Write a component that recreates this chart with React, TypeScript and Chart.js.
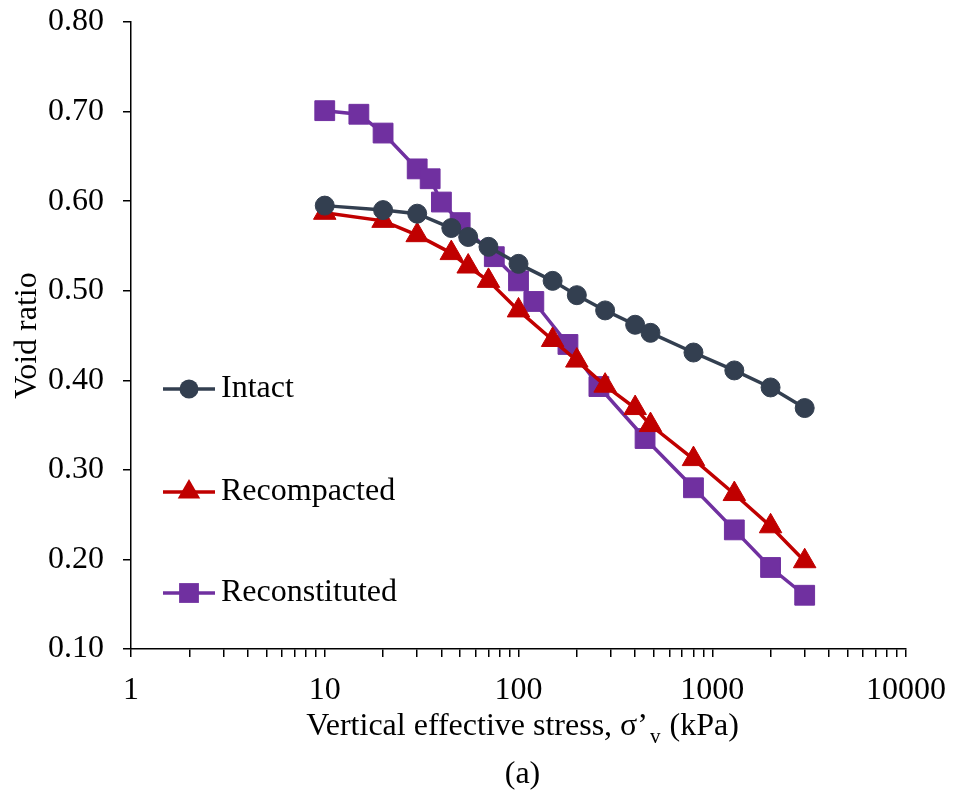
import React, { useEffect, useRef } from "react";
import { Chart, registerables } from "chart.js";

Chart.register(...registerables);

// ---- data ----
const intactStress = [10, 20, 30, 45, 55, 70, 100, 150, 200, 280, 400, 480, 800, 1300, 2000, 3000];
const intactVoid = [0.595, 0.590, 0.586, 0.570, 0.560, 0.549, 0.530, 0.511, 0.495, 0.478, 0.462, 0.453, 0.431, 0.411, 0.392, 0.369];

const recompStress = [10, 20, 30, 45, 55, 70, 100, 150, 200, 280, 400, 480, 800, 1300, 2000, 3000];
const recompVoid = [0.587, 0.578, 0.562, 0.542, 0.527, 0.511, 0.478, 0.445, 0.422, 0.394, 0.369, 0.350, 0.312, 0.273, 0.237, 0.198];

const reconStress = [10, 15, 20, 30, 35, 40, 50, 75, 100, 120, 180, 260, 450, 800, 1300, 2000, 3000];
const reconVoid = [0.701, 0.697, 0.676, 0.636, 0.625, 0.599, 0.576, 0.538, 0.511, 0.488, 0.440, 0.393, 0.335, 0.280, 0.233, 0.191, 0.160];

const seriesNames = ["Intact", "Recompacted", "Reconstituted"];
const xMajorTicks = [1, 10, 100, 1000, 10000];
const yTickValues = [0.1, 0.2, 0.3, 0.4, 0.5, 0.6, 0.7, 0.8];
const xTitleMain = "Vertical effective stress, σ’";
const xTitleSub = "v";
const xTitleEnd = " (kPa)";
const yTitle = "Void ratio";
const panelLabel = "(a)";

const COLORS = ["#333F50", "#C00000", "#7030A0"];
const STYLES: any[] = ["circle", "triangle", "rect"];
const RADII = [9.5, 13, 14];
const FONT = "'Liberation Serif', 'Times New Roman', serif";
const FS = 32;

const toPts = (xs: number[], ys: number[]) => xs.map((x, i) => ({ x, y: ys[i] }));

const overlayPlugin = {
  id: "overlay",
  afterDraw(chart: any) {
    const ctx = chart.ctx as CanvasRenderingContext2D;
    const ca = chart.chartArea;
    ctx.save();
    ctx.fillStyle = "#000";
    ctx.textBaseline = "middle";
    ctx.textAlign = "left";
    const mainFont = `${FS}px ${FONT}`;
    const subFont = `21px ${FONT}`;
    ctx.font = mainFont;
    const w1 = ctx.measureText(xTitleMain).width;
    const w3 = ctx.measureText(xTitleEnd).width;
    ctx.font = subFont;
    const w2 = ctx.measureText(xTitleSub).width + 3;
    const total = w1 + w2 + w3;
    const cx = (ca.left + ca.right) / 2 + 4;
    const ty = ca.bottom + 78;
    const x0 = cx - total / 2;
    ctx.font = mainFont;
    ctx.fillText(xTitleMain, x0, ty);
    ctx.font = subFont;
    ctx.fillText(xTitleSub, x0 + w1 + 2, ty + 10);
    ctx.font = mainFont;
    ctx.fillText(xTitleEnd, x0 + w1 + w2, ty);
    ctx.textAlign = "center";
    ctx.fillText(panelLabel, cx, ca.bottom + 126);

    // legend
    const offsets = [367, 470, 571];
    seriesNames.forEach((name, i) => {
      const y = ca.top + offsets[i];
      const lx0 = ca.left + 32;
      const lx1 = ca.left + 84;
      ctx.strokeStyle = COLORS[i];
      ctx.lineWidth = 3.5;
      ctx.beginPath();
      ctx.moveTo(lx0, y);
      ctx.lineTo(lx1, y);
      ctx.stroke();
      ctx.fillStyle = COLORS[i];
      const mx = (lx0 + lx1) / 2;
      const r = RADII[i];
      ctx.beginPath();
      if (STYLES[i] === "circle") {
        ctx.arc(mx, y, r, 0, Math.PI * 2);
      } else if (STYLES[i] === "triangle") {
        ctx.moveTo(mx, y - r);
        ctx.lineTo(mx + r * 0.866, y + r / 2);
        ctx.lineTo(mx - r * 0.866, y + r / 2);
        ctx.closePath();
      } else {
        const s = r * Math.SQRT1_2;
        ctx.rect(mx - s, y - s, 2 * s, 2 * s);
      }
      ctx.fill();
      ctx.fillStyle = "#000";
      ctx.textAlign = "left";
      ctx.font = mainFont;
      ctx.fillText(name, lx1 + 6, y);
    });
    ctx.restore();
  },
};

export default function App() {
  const ref = useRef<HTMLCanvasElement | null>(null);
  useEffect(() => {
    document.body.style.margin = "0";
    const canvas = ref.current!;
    const datasets = [
      toPts(intactStress, intactVoid),
      toPts(recompStress, recompVoid),
      toPts(reconStress, reconVoid),
    ].map((data, i) => ({
      label: seriesNames[i],
      data,
      borderColor: COLORS[i],
      backgroundColor: COLORS[i],
      pointBackgroundColor: COLORS[i],
      pointBorderColor: COLORS[i],
      pointBorderWidth: 1,
      borderWidth: 3.5,
      pointStyle: STYLES[i],
      pointRadius: RADII[i],
      pointHoverRadius: RADII[i],
      tension: 0,
      showLine: true,
    }));
    const chart = new Chart(canvas, {
      type: "scatter",
      data: { datasets },
      plugins: [overlayPlugin],
      options: {
        animation: false,
        responsive: false,
        maintainAspectRatio: false,
        layout: { padding: { left: 0, right: 47, top: 22, bottom: 0 } },
        plugins: { legend: { display: false }, tooltip: { enabled: false } },
        scales: {
          x: {
            type: "logarithmic",
            min: 1,
            max: 10000,
            afterBuildTicks(scale: any) {
              const t: any[] = [];
              for (let d = 0; d < xMajorTicks.length - 1; d++) {
                for (let k = 1; k < 10; k++) t.push({ value: k * xMajorTicks[d] });
              }
              t.push({ value: xMajorTicks[xMajorTicks.length - 1] });
              scale.ticks = t;
            },
            afterFit(scale: any) {
              scale.height = 150;
              scale.paddingLeft = 0;
              scale.paddingRight = 0;
            },
            border: { display: true, color: "#000", width: 1.5 },
            grid: { drawOnChartArea: false, drawTicks: true, tickLength: 8, color: "#000", lineWidth: 1.5 },
            ticks: {
              autoSkip: false,
              maxRotation: 0,
              padding: 14,
              color: "#000",
              font: { family: FONT, size: FS },
              callback: (v: any) => (xMajorTicks.includes(Number(v)) ? String(v) : ""),
            },
          },
          y: {
            type: "linear",
            min: 0.1,
            max: 0.8,
            afterBuildTicks(scale: any) {
              scale.ticks = yTickValues.map((v) => ({ value: v }));
            },
            afterFit(scale: any) {
              scale.width = 131;
              scale.paddingTop = 0;
              scale.paddingBottom = 0;
            },
            border: { display: true, color: "#000", width: 1.5 },
            grid: { drawOnChartArea: false, drawTicks: true, tickLength: 8, color: "#000", lineWidth: 1.5 },
            title: {
              display: true,
              text: yTitle,
              color: "#000",
              font: { family: FONT, size: FS },
              padding: { top: 8, bottom: 0 },
            },
            ticks: {
              padding: 19,
              color: "#000",
              font: { family: FONT, size: FS },
              callback: (v: any) => Number(v).toFixed(2),
            },
          },
        },
      },
    } as any);
    return () => chart.destroy();
  }, []);
  return (
    <div style={{ position: "relative", width: 953, height: 799 }}>
      <canvas ref={ref} width={953} height={799} style={{ width: 953, height: 799, display: "block" }} />
    </div>
  );
}
